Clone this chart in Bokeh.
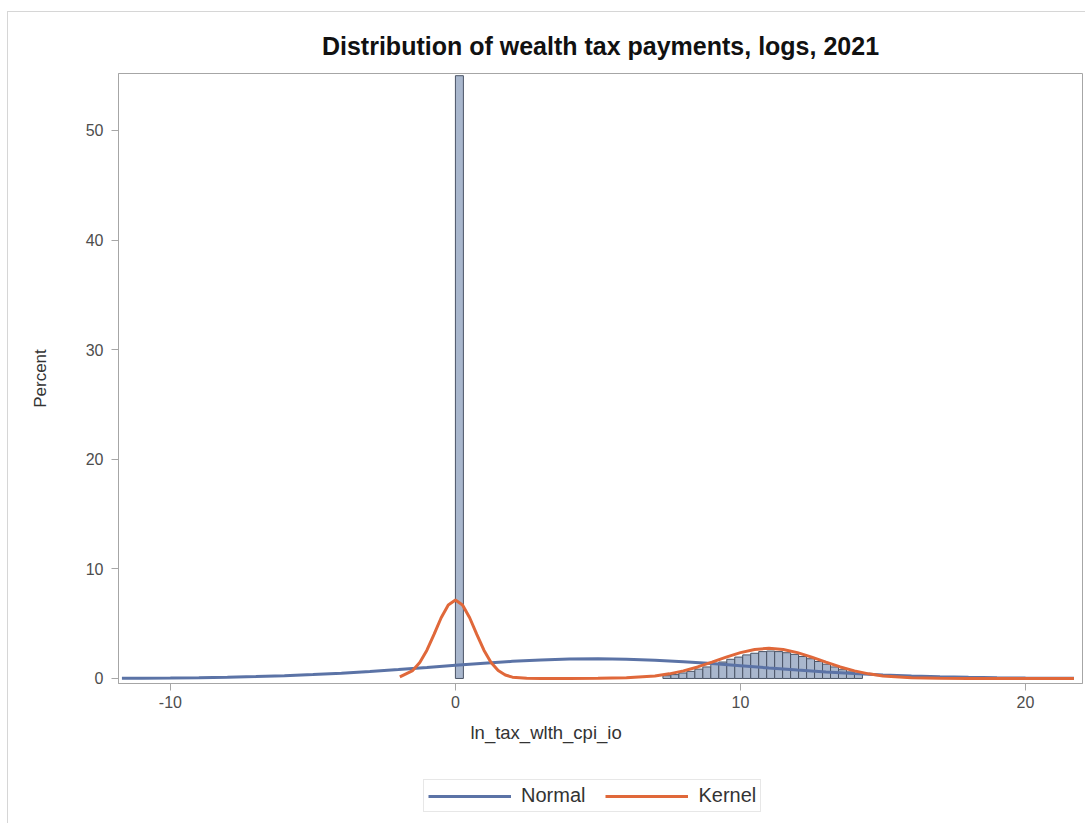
from bokeh.plotting import figure
from bokeh.layouts import column
from bokeh.models import (Range1d, Legend, LegendItem, Title, FixedTicker,
                          CustomJSTickFormatter, InlineStyleSheet)
from bokeh.embed import file_html
from bokeh.resources import INLINE

# ---------------- data ----------------
# histogram bins: left edges and percent
bin_left = [0.0,
            7.28, 7.56, 7.84, 8.12, 8.40, 8.68, 8.96, 9.24, 9.52, 9.80,
            10.08, 10.36, 10.64, 10.92, 11.20, 11.48, 11.76, 12.04, 12.32,
            12.60, 12.88, 13.16, 13.44, 13.72, 14.00]
bin_pct = [55.0,
           0.25, 0.35, 0.50, 0.65, 0.85, 1.05, 1.30, 1.50, 1.75, 1.95,
           2.15, 2.30, 2.45, 2.50, 2.45, 2.35, 2.20, 2.00, 1.80,
           1.55, 1.30, 1.05, 0.80, 0.60, 0.40]
bin_width = 0.28

# fitted normal curve
normal_x = [-11.7, -11, -10, -9, -8, -7, -6, -5, -4, -3, -2, -1, 0, 1, 2, 3, 4, 5,
            6, 7, 8, 9, 10, 11, 12, 13, 14, 15, 16, 17, 18, 19, 20, 21, 21.7]
normal_y = [0.02, 0.03, 0.04, 0.07, 0.11, 0.17, 0.24, 0.35, 0.47, 0.63, 0.81, 1.00, 1.20,
            1.39, 1.56, 1.69, 1.78, 1.80, 1.76, 1.67, 1.53, 1.36, 1.16, 0.96, 0.77,
            0.60, 0.45, 0.32, 0.23, 0.15, 0.10, 0.06, 0.04, 0.02, 0.02]

# kernel density curve
kernel_x = [-1.95, -1.5, -1.25, -1.0, -0.75, -0.5, -0.25, 0.0, 0.25, 0.5, 0.75, 1.0,
            1.25, 1.5, 1.75, 2.0, 2.5, 3.0, 4.0, 5.0, 6.0, 7.0, 7.5, 8.0, 8.5, 9.0,
            9.5, 10.0, 10.5, 11.0, 11.5, 12.0, 12.5, 13.0, 13.5, 14.0, 14.5, 15.0,
            16.0, 17.0, 18.0, 20.0, 21.7]
kernel_y = [0.15, 0.72, 1.45, 2.58, 4.03, 5.54, 6.71, 7.15, 6.71, 5.54, 4.03, 2.58,
            1.45, 0.72, 0.31, 0.12, 0.01, 0.0, 0.0, 0.01, 0.06, 0.23, 0.42, 0.69, 1.05,
            1.49, 1.95, 2.36, 2.65, 2.75, 2.65, 2.36, 1.95, 1.49, 1.05, 0.69, 0.42,
            0.23, 0.06, 0.01, 0.0, 0.0, 0.0]

x_ticks = [-10, 0, 10, 20]
y_ticks = [0, 10, 20, 30, 40, 50]

NORMAL_COLOR = "#5b73a6"
KERNEL_COLOR = "#e0683a"
FONT = "Liberation Sans"

# ---------------- main figure ----------------
p = figure(width=1085, height=778,
           x_range=Range1d(-11.82, 22.0), y_range=Range1d(-0.46, 55.2),
           output_backend="svg", toolbar_location=None,
           min_border_left=118, min_border_right=3,
           min_border_top=73, min_border_bottom=95,
           title="Distribution of wealth tax payments, logs, 2021")

p.background_fill_color = "white"
p.border_fill_color = "white"
p.outline_line_color = "#a6a6a6"
p.xgrid.visible = False
p.ygrid.visible = False

p.title.align = "center"
p.title.text_font = FONT
p.title.text_font_size = "25px"
p.title.text_font_style = "bold"
p.title.text_color = "#111111"
p.title.standoff = 27

fmt = CustomJSTickFormatter(code="return tick.toString();")
for ax in (p.xaxis[0], p.yaxis[0]):
    ax.axis_line_color = "#a6a6a6"
    ax.major_tick_line_color = "#a6a6a6"
    ax.major_tick_out = 7
    ax.major_tick_in = 0
    ax.minor_tick_line_color = None
    ax.major_label_text_font = FONT
    ax.major_label_text_font_size = "16px"
    ax.major_label_text_color = "#4d4d4d"
    ax.axis_label_text_font = FONT
    ax.axis_label_text_font_size = "17px"
    ax.axis_label_text_font_style = "normal"
    ax.axis_label_text_color = "#333333"
    ax.formatter = fmt

p.xaxis.ticker = FixedTicker(ticks=x_ticks)
p.yaxis.ticker = FixedTicker(ticks=y_ticks)
p.xaxis.major_label_standoff = 5
p.yaxis.major_label_standoff = 8
p.yaxis.axis_label = "Percent"
p.yaxis.axis_label_standoff = 33

# histogram
bin_right = [b + bin_width for b in bin_left]
p.quad(left=bin_left, right=bin_right, bottom=0, top=bin_pct,
       fill_color="#a9b7cd", line_color="#4a5466", line_width=1)

p.line(normal_x, normal_y, line_color=NORMAL_COLOR, line_width=3)
p.line(kernel_x, kernel_y, line_color=KERNEL_COLOR, line_width=3)

# x label (centred on the whole graph as in the original)
xlab = Title(text="ln_tax_wlth_cpi_io", align="left", offset=352,
             text_font=FONT, text_font_size="18.5px", text_font_style="normal",
             text_color="#333333", standoff=18)
p.add_layout(xlab, "below")

# ---------------- legend strip ----------------
# the same series are drawn here outside the visible window, only to key the legend
lg = figure(width=1085, height=45, x_range=Range1d(100, 101), y_range=Range1d(100, 101),
            output_backend="svg", toolbar_location=None, min_border=0)
lg.axis.visible = False
lg.xgrid.visible = False
lg.ygrid.visible = False
lg.outline_line_color = None
lg.background_fill_color = "white"
lg.border_fill_color = "white"
ln = lg.line(normal_x, normal_y, line_color=NORMAL_COLOR, line_width=3)
lk = lg.line(kernel_x, kernel_y, line_color=KERNEL_COLOR, line_width=3)

legend = Legend(items=[LegendItem(label="Normal", renderers=[ln]),
                       LegendItem(label="Kernel", renderers=[lk])],
                orientation="horizontal", location=(305, 11),
                border_line_color="#cfcfcf", background_fill_color="white",
                glyph_width=83, glyph_height=16, label_text_font=FONT,
                label_text_font_size="20px", label_text_color="#333333",
                spacing=20, padding=4, margin=0, label_standoff=10)
lg.add_layout(legend, "center")

# faint outer frame of the graph (top and left edges)
frame_css = InlineStyleSheet(css="""
:host { position: relative; }
:host::after {
  content: ""; position: absolute; left: 7px; top: 11px; right: 0; bottom: 0;
  border-left: 1px solid #d6d6d6; border-top: 1px solid #d6d6d6;
  pointer-events: none; z-index: 10;
}
""")

layout = column(p, lg, spacing=0, stylesheets=[frame_css])
open("out.html", "w").write(file_html(layout, INLINE))
